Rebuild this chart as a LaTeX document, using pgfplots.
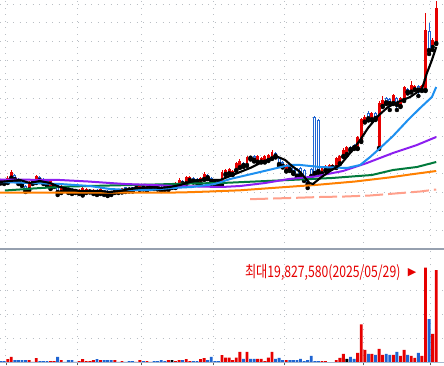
\documentclass[border=0pt]{standalone}
\usepackage{pgfplots}
\pgfplotsset{compat=1.18}
\usepackage{pgfplotstable}
\usepackage{fontspec}
\newfontfamily\kr{Noto Sans CJK KR}
\newfontfamily\dejavu{DejaVu Sans}
\definecolor{cred}{RGB}{230,0,0}
\definecolor{cblue}{RGB}{30,100,210}
\definecolor{ma20}{RGB}{30,144,240}
\definecolor{ma60}{RGB}{140,30,240}
\definecolor{ma120}{RGB}{0,122,60}
\definecolor{ma240}{RGB}{255,128,0}
\definecolor{ma480}{RGB}{255,160,140}
\definecolor{gridc}{RGB}{185,190,196}
\definecolor{sepc}{RGB}{150,160,175}
\definecolor{basec}{RGB}{165,182,205}

\pgfplotstableread{
i o h l c vd vol
0 69 70 65.5 66.5 -1 0.35
1 68 69 65 66 -1 0.35
2 67 72.5 66 71 1 0.77
3 71.3 79 70.5 76.7 1 1.19
4 74 75 68 69 -1 0.56
5 70 71 65 67 -1 0.56
6 69 70 63 64 -1 0.56
7 63 64 57 58 -1 0.56
8 59.5 68 58.5 67 1 0.56
9 66 69 65 68 1 0.15
10 67 74 66 73 1 0.98
11 72 73 67 68 -1 0.35
12 70 71 65 66 -1 0.35
13 68 69 63 64 -1 0.35
14 61 69 60 68 1 0.35
15 63 66 62 65 1 0.35
16 64 65 54 56 -1 1.19
17 57 64 56 63 1 0.56
18 61 62 58 59 -1 0.15
19 61 62 56 57 -1 0.56
20 60 61 55 56 -1 0.56
21 59 60 56 57 -1 0.15
22 56 60 55 59 1 0.35
23 54.5 63 53.5 61 1 0.77
24 57 61 56 60 1 0.35
25 57.5 60 56.5 59 1 0.35
26 56 60 55 59 1 0.56
27 59 60 54 55 -1 0.77
28 56 61 55 60 1 0.56
29 58.5 59 54 55 -1 0.56
30 58 59 53 54 -1 0.56
31 57 58 54 55 -1 0.56
32 57 61 56 60 1 0.56
33 59 60 56 57 -1 0.15
34 57.5 61 56.5 60.5 1 0.35
35 61.5 62 57 58 -1 0.15
36 61 62 57.5 58.5 -1 0.35
37 61.5 62 57.5 58.5 -1 0.35
38 61 64 60 63 1 0.15
39 60 65 59 64 1 0.56
40 63 64 59.5 60.5 -1 0.35
41 59 64 58 63 1 0.35
42 61 65 60 64 1 0.15
43 64.5 65 60 61 -1 0.35
44 63 64 59.5 60.5 -1 0.35
45 62 63 58 59 -1 0.56
46 62 63 59 60 -1 0.35
47 60 65 59 64.5 1 0.56
48 62.5 63.5 61 62.5 0 0.56
49 61.7 66.5 61 65.7 1 0.35
50 64 70.5 63 69 1 0.56
51 68 69 63.5 64.7 -1 0.56
52 65.7 73 65 72.3 1 0.77
53 69 73 68 72.3 1 0.35
54 71.3 72 66.5 67.3 -1 0.35
55 70 71 66 67 -1 0.35
56 65.7 72 65 71.3 1 0.77
57 70 76.5 69 74.7 1 0.98
58 74 75 70 70.7 -1 0.56
59 70.7 71.5 65 65.7 -1 1.19
60 69.5 70 64.5 65.5 -1 0.35
61 68 69 64 65 -1 0.35
62 65 78.5 64 77 1 1.6
63 75 80 74 79 1 1.06
64 75.7 80.5 75 79.7 1 1.06
65 75 79 74 78.3 1 0.56
66 79 86.5 78 85.7 1 1.06
67 81.7 89.5 81 88.3 1 2.26
68 86.3 87 82 83 -1 0.78
69 84 92.5 83 91.7 1 2.26
70 92.3 93 89.5 90.3 -1 0.78
71 93 93.5 87.5 88.3 -1 0.78
72 87.3 94 86.5 93 1 0.78
73 87.3 91.5 86.5 90.7 1 0.78
74 87.3 94 86.5 93 1 0.35
75 89 95 88 94 1 1.06
76 90.7 98.5 90 97.3 1 2.26
77 96.3 97 91.5 92.3 -1 0.78
78 90.7 91.5 83 84 -1 1.0
79 87.3 88 81.5 82.3 -1 0.56
80 78.3 85 77.5 84 1 0.56
81 83 84 78 79 -1 0.56
82 81.7 82.5 75 75.7 -1 0.56
83 79.7 80.5 71.5 72.3 -1 0.56
84 81 82 72 73 -1 0.78
85 79 80 68 69 -1 0.35
86 72 73 61 64 -1 0.56
87 80 81 71 72 -1 1.41
88 132 133 74 75 -1 0.35
89 129 130 76 77 -1 0.35
90 75.7 82.5 75 81.7 1 0.35
91 79 84 78 83 1 0.35
92 79.7 85 79 84 1 0.14
93 82 85 81 84 1 0.14
94 81.7 91.5 81 90.7 1 0.56
95 85.7 94 85 93 1 1.0
96 93 100.7 92 99 1 1.84
97 95 103 94 102.3 0 0.78
98 102.3 103 98 99 -1 1.2
99 104 105 100 100.7 -1 0.78
100 100.7 112.5 100 111.7 1 2.05
101 108 131 107 129.7 1 7.98
102 127.3 133.5 126.5 131.7 1 2.68
103 135.7 137.5 128.5 129.7 -1 1.84
104 129.7 136.5 128.5 135.7 1 1.84
105 135.7 136.5 129 130 -1 1.62
106 101 148 100 146 1 2.9
107 143 152.5 142 149 1 1.62
108 150.7 151.5 145 145.7 -1 1.84
109 149.7 150.5 139 145 -1 1.62
110 146 155 145 154 1 1.62
111 150.7 151.5 139 144 -1 2.26
112 143 151.5 142 150.7 1 1.41
113 149 162.5 148 161.7 1 2.68
114 159.7 160.5 155.5 156.3 -1 1.62
115 157.3 168 156.5 164 1 1.41
116 159.7 164 159 163 1 1.0
117 163 164 153 158.3 -1 2.05
118 159 164 158 163 1 1.41
119 159 236 158 219 1 19.83
120 218 226 195 198 -1 9.1
121 202 211 199 209 1 6.0
122 206 248 205 241 1 19.35
}\ohlc

\pgfplotstableread{
x y
-0.2 67
2.6 68
5.4 69
8.2 66
11.0 68
13.8 66
16.6 62
19.4 60
22.2 58
27.8 58
30.6 57
33.4 58
36.3 60
39.0 61
41.8 62
44.6 61
47.4 62
50.3 64
53.0 67
55.8 69
58.6 69
61.5 69
64.3 73
67.1 77
69.9 81
72.7 86
75.5 90
77.7 92
79.7 89
81.6 83
83.9 77
86.5 66
87.5 65
89.5 71
92.3 78
95.1 84
97.9 96
100.7 109
102.9 121
105.7 133
108.5 142
111.3 147
114.7 152
118.0 160
119.4 176
120.8 189
122.0 202
}\maA

\pgfplotstableread{
x y
-0.2 67
8.2 66
16.6 65
25.0 63
30.6 60
36.3 59
41.8 59
48.0 61
53.6 62
60.0 65
64.3 70
67.9 73
72.7 77
77.4 81
81.0 84
83.9 84
89.5 82
97.0 81
100.7 84
103.5 92
106.3 101
109.9 113
114.1 129
117.5 141
120.8 152
122.0 162
}\maB

\pgfplotstableread{
x y
-0.2 69.5
16.6 69
24.5 67.5
30.6 66
34.8 65
42.7 64
48.3 63
62.0 62
67.1 63
74.1 66
80.8 70
88.1 72.5
95.9 78
102.6 86
109.9 96
116.6 104
122.0 112
}\maC

\pgfplotstableread{
x y
1.2 58.5
5.4 59.5
9.1 60.5
13.8 61.5
19.4 62.5
30.6 63.5
43.3 64.5
53.0 65.5
62.0 66
80.8 69
92.8 71
104.0 74
109.9 79
116.6 82
122.0 87
}\maD

\pgfplotstableread{
x y
-0.2 56.3
50.3 56.5
58.6 57.5
67.1 58.7
76.0 61
83.9 63
88.1 64
99.3 67.5
108.8 71.5
114.7 74.5
122.0 78
}\maE

\pgfplotstableread{
x y
69.9 49.8
81.1 51
89.5 52
96.5 52.5
103.5 53.5
110.5 55.5
117.5 57.5
122.0 59.5
}\maF

\pgfplotsset{
  chartbase/.style={
    scale only axis, width=444pt,
    xmin=-0.157, xmax=124.18,
    axis line style={draw=none},
    xtick={1.5,21.5,39.5,59.5,79.5,101.5,120.5},
    xticklabels={}, yticklabels={},
    grid=major,
    major grid style={gridc, line width=0.9pt, dash pattern=on 0.9pt off 5.6pt},
    clip mode=individual,
  },
  wick/.style 2 args={only marks, mark=none,
    restrict expr to domain={\thisrow{c}-\thisrow{o}}{#1},
    error bars/.cd, y dir=plus, y explicit, error mark=none,
    error bar style={line width=0.9pt, color=#2}},
  maline/.style={mark=none, line width=2pt, line join=round},
}

\begin{document}
\begin{tikzpicture}
\path[use as bounding box, fill=white] (0,0) rectangle (444pt,366pt);

% ---------- price panel ----------
\begin{axis}[chartbase,
  at={(0pt,117pt)}, anchor=south west, height=249pt,
  ymin=0, ymax=249,
  ytick={18.6,37.4,56.3,75.2,94,112.9,131.8,150.6,169.5,188.4,207.3,226.1,245},
  tick style={draw=none},
]
% wicks
\addplot[wick={0.01:1000}{cred}] table[x=i, y=l, y error expr=\thisrow{h}-\thisrow{l}] {\ohlc};
\addplot[wick={-1000:-0.01}{cblue}] table[x=i, y=l, y error expr=\thisrow{h}-\thisrow{l}] {\ohlc};
\addplot[wick={-0.01:0.01}{black}] table[x=i, y=l, y error expr=\thisrow{h}-\thisrow{l}] {\ohlc};
% up bodies
\addplot[only marks, mark=none,
  restrict expr to domain={\thisrow{c}-\thisrow{o}}{0.01:1000},
  error bars/.cd, y dir=plus, y explicit, error mark=none,
  error bar style={line width=2.9pt, color=cred}]
  table[x=i, y=o, y error expr=\thisrow{c}-\thisrow{o}] {\ohlc};
% down bodies (hollow)
\addplot[only marks, mark=none,
  restrict expr to domain={\thisrow{c}-\thisrow{o}}{-1000:-0.01},
  error bars/.cd, y dir=plus, y explicit, error mark=none,
  error bar style={line width=3.1pt, color=cblue}]
  table[x=i, y=c, y error expr=\thisrow{o}-\thisrow{c}] {\ohlc};
\addplot[only marks, mark=none,
  restrict expr to domain={\thisrow{c}-\thisrow{o}}{-1000:-0.01},
  error bars/.cd, y dir=plus, y explicit, error mark=none,
  error bar style={line width=1.1pt, color=white}]
  table[x=i, y expr=\thisrow{c}+1, y error expr={max(\thisrow{o}-\thisrow{c}-2,0)}] {\ohlc};
% doji
\addplot[only marks, mark=-, mark size=1.5pt, mark options={line width=1.2pt, black},
  restrict expr to domain={\thisrow{c}-\thisrow{o}}{-0.01:0.01}]
  table[x=i, y=c] {\ohlc};
% moving averages
\addplot[ma480, maline, dash pattern=on 18pt off 5pt] table[x=x, y=y] {\maF};
\addplot[ma240, maline] table[x=x, y=y] {\maE};
\addplot[ma120, maline] table[x=x, y=y] {\maD};
\addplot[ma60, maline] table[x=x, y=y] {\maC};
\addplot[ma20, maline] table[x=x, y=y] {\maB};
\addplot[black, maline, line width=2.1pt] table[x=x, y=y] {\maA};
\end{axis}

% ---------- volume panel ----------
\begin{axis}[chartbase,
  at={(0pt,3.3pt)}, anchor=south west, height=113.7pt,
  ymin=0, ymax=23.74,
  ytick={5,10,15},
  xtick pos=left, ytick style={draw=none},
  xtick style={draw=black!65, line width=0.8pt},
  tick align=outside, major tick length=2.6pt,
]
\addplot[ybar, bar width=2.9pt, bar shift=0pt, fill=cred, draw=none,
  restrict expr to domain={\thisrow{vd}}{0.5:1.5}] table[x=i, y=vol] {\ohlc};
\addplot[ybar, bar width=2.9pt, bar shift=0pt, fill=cblue, draw=none,
  restrict expr to domain={\thisrow{vd}}{-1.5:-0.5}] table[x=i, y=vol] {\ohlc};
\addplot[ybar, bar width=2.9pt, bar shift=0pt, fill=black, draw=none,
  restrict expr to domain={\thisrow{vd}}{-0.5:0.5}] table[x=i, y=vol] {\ohlc};
\draw[sepc, line width=1.3pt] (rel axis cs:0,1) -- (rel axis cs:1,1);
\draw[basec, line width=1.3pt] (rel axis cs:0,0) -- (rel axis cs:1,0);
\node[anchor=west, inner sep=0pt, text=cred, font=\kr\fontsize{12.2}{14}\selectfont]
  at (axis cs:68.4,18.73) {\scalebox{1}[1.3]{최대19,827,580(2025/05/29)}};
\node[anchor=west, inner sep=0pt, text=cred, font=\dejavu\fontsize{11}{12}\selectfont]
  at (axis cs:114.0,18.73) {▶};
\end{axis}
\end{tikzpicture}
\end{document}
